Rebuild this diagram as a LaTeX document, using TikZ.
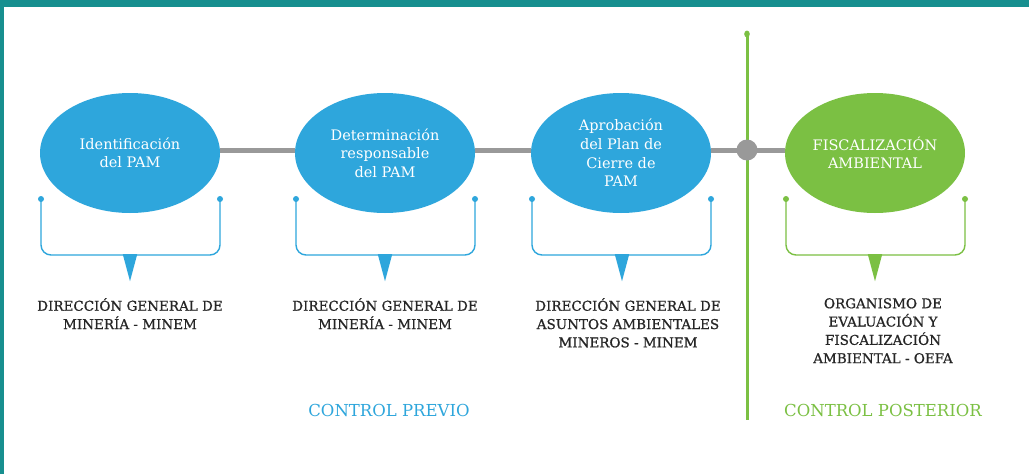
\documentclass[tikz,border=0pt]{standalone}
\usepackage{fontspec}
\setmainfont{DejaVu Serif}
\newfontfamily\orgfont{DejaVu Serif}[AutoFakeBold=0.8]
\usetikzlibrary{shapes.geometric}
\definecolor{pblue}{HTML}{2EA6DC}
\definecolor{pgreen}{HTML}{7BC043}
\definecolor{pgray}{HTML}{999999}
\definecolor{pteal}{HTML}{178F8F}
\definecolor{ptext}{HTML}{262626}
\tikzset{
  stage/.style={ellipse, minimum width=180pt, minimum height=120pt, inner sep=0pt, text=white, align=center, font=\fontsize{14.5}{18.6}\selectfont},
  bluestage/.style={stage, fill=pblue},
  greenstage/.style={stage, fill=pgreen, font=\fontsize{14.5}{18.6}\selectfont},
  timeline/.style={draw=pgray, line width=5pt},
  bracket/.style={line width=1.4pt, rounded corners=10pt},
  dotmark/.style={circle, inner sep=0pt, minimum size=6pt},
  pointer/.style={isosceles triangle, shape border rotate=-90, isosceles triangle apex angle=30, minimum height=27pt, minimum width=14pt, inner sep=0pt, anchor=apex},
  orglabel/.style={text=ptext, align=center, font=\orgfont\bfseries\fontsize{13.5}{18.3}\selectfont, anchor=north, inner sep=0pt},
  phase/.style={font=\fontsize{16.5}{18}\selectfont}
}
\begin{document}
\begin{tikzpicture}[x=1pt,y=-1pt]
\useasboundingbox (0,0) rectangle (1029,474);
\fill[white] (0,0) rectangle (1029,474);
\fill[pteal] (0,0) rectangle (1029,7);
\fill[pteal] (0,0) rectangle (3.5,474);

% green divider
\coordinate (gt) at (747,34);
\coordinate (gb) at (747,420);
\draw[pgreen, line width=3pt] (gt) -- (gb);
\fill[pgreen] (gt) ellipse (2.8pt and 3.5pt);

% stages
\node[bluestage] (e1) at (130,153) {Identificación\\del PAM};
\node[bluestage] (e2) at (385,153) {Determinación\\responsable\\del PAM};
\node[bluestage] (e3) at (621,153) {Aprobación\\del Plan de\\Cierre de\\PAM};
\node[greenstage] (e4) at (875,153) {FISCALIZACIÓN\\AMBIENTAL};
\coordinate (c) at (747,150);

\draw[timeline] (e1.east |- c) -- (e2.west |- c);
\draw[timeline] (e2.east |- c) -- (e3.west |- c);
\draw[timeline] (e3.east |- c) -- (c);
\draw[timeline] (c) -- (e4.west |- c);
\node[circle, fill=pgray, minimum size=21pt, inner sep=0pt] (cn) at (c) {};

% brackets
\foreach \n/\xa/\xb/\xm/\col in {1/41/220/130/pblue, 2/296/475/385/pblue, 3/532/711/622/pblue, 4/786/965/875/pgreen}{
  \node[dotmark, fill=\col] (l\n) at (\xa,199) {};
  \node[dotmark, fill=\col] (r\n) at (\xb,199) {};
  \draw[bracket, draw=\col] (l\n.center) -- (\xa,255) -- (\xb,255) -- (r\n.center);
  \node[pointer, fill=\col] (p\n) at (\xm,282) {};
}

% organisation labels
\node[orglabel] (o1) at (130,298) {DIRECCIÓN GENERAL DE\\MINERÍA - MINEM};
\node[orglabel] (o2) at (385,298) {DIRECCIÓN GENERAL DE\\MINERÍA - MINEM};
\node[orglabel] (o3) at (628,298) {DIRECCIÓN GENERAL DE\\ASUNTOS AMBIENTALES\\MINEROS - MINEM};
\node[orglabel] (o4) at (883,298) {ORGANISMO DE\\EVALUACIÓN Y\\FISCALIZACIÓN\\AMBIENTAL - OEFA};

% phases
\node[phase, text=pblue] (cp) at (389,410) {CONTROL PREVIO};
\node[phase, text=pgreen] (cq) at (883,410) {CONTROL POSTERIOR};
\end{tikzpicture}
\end{document}
